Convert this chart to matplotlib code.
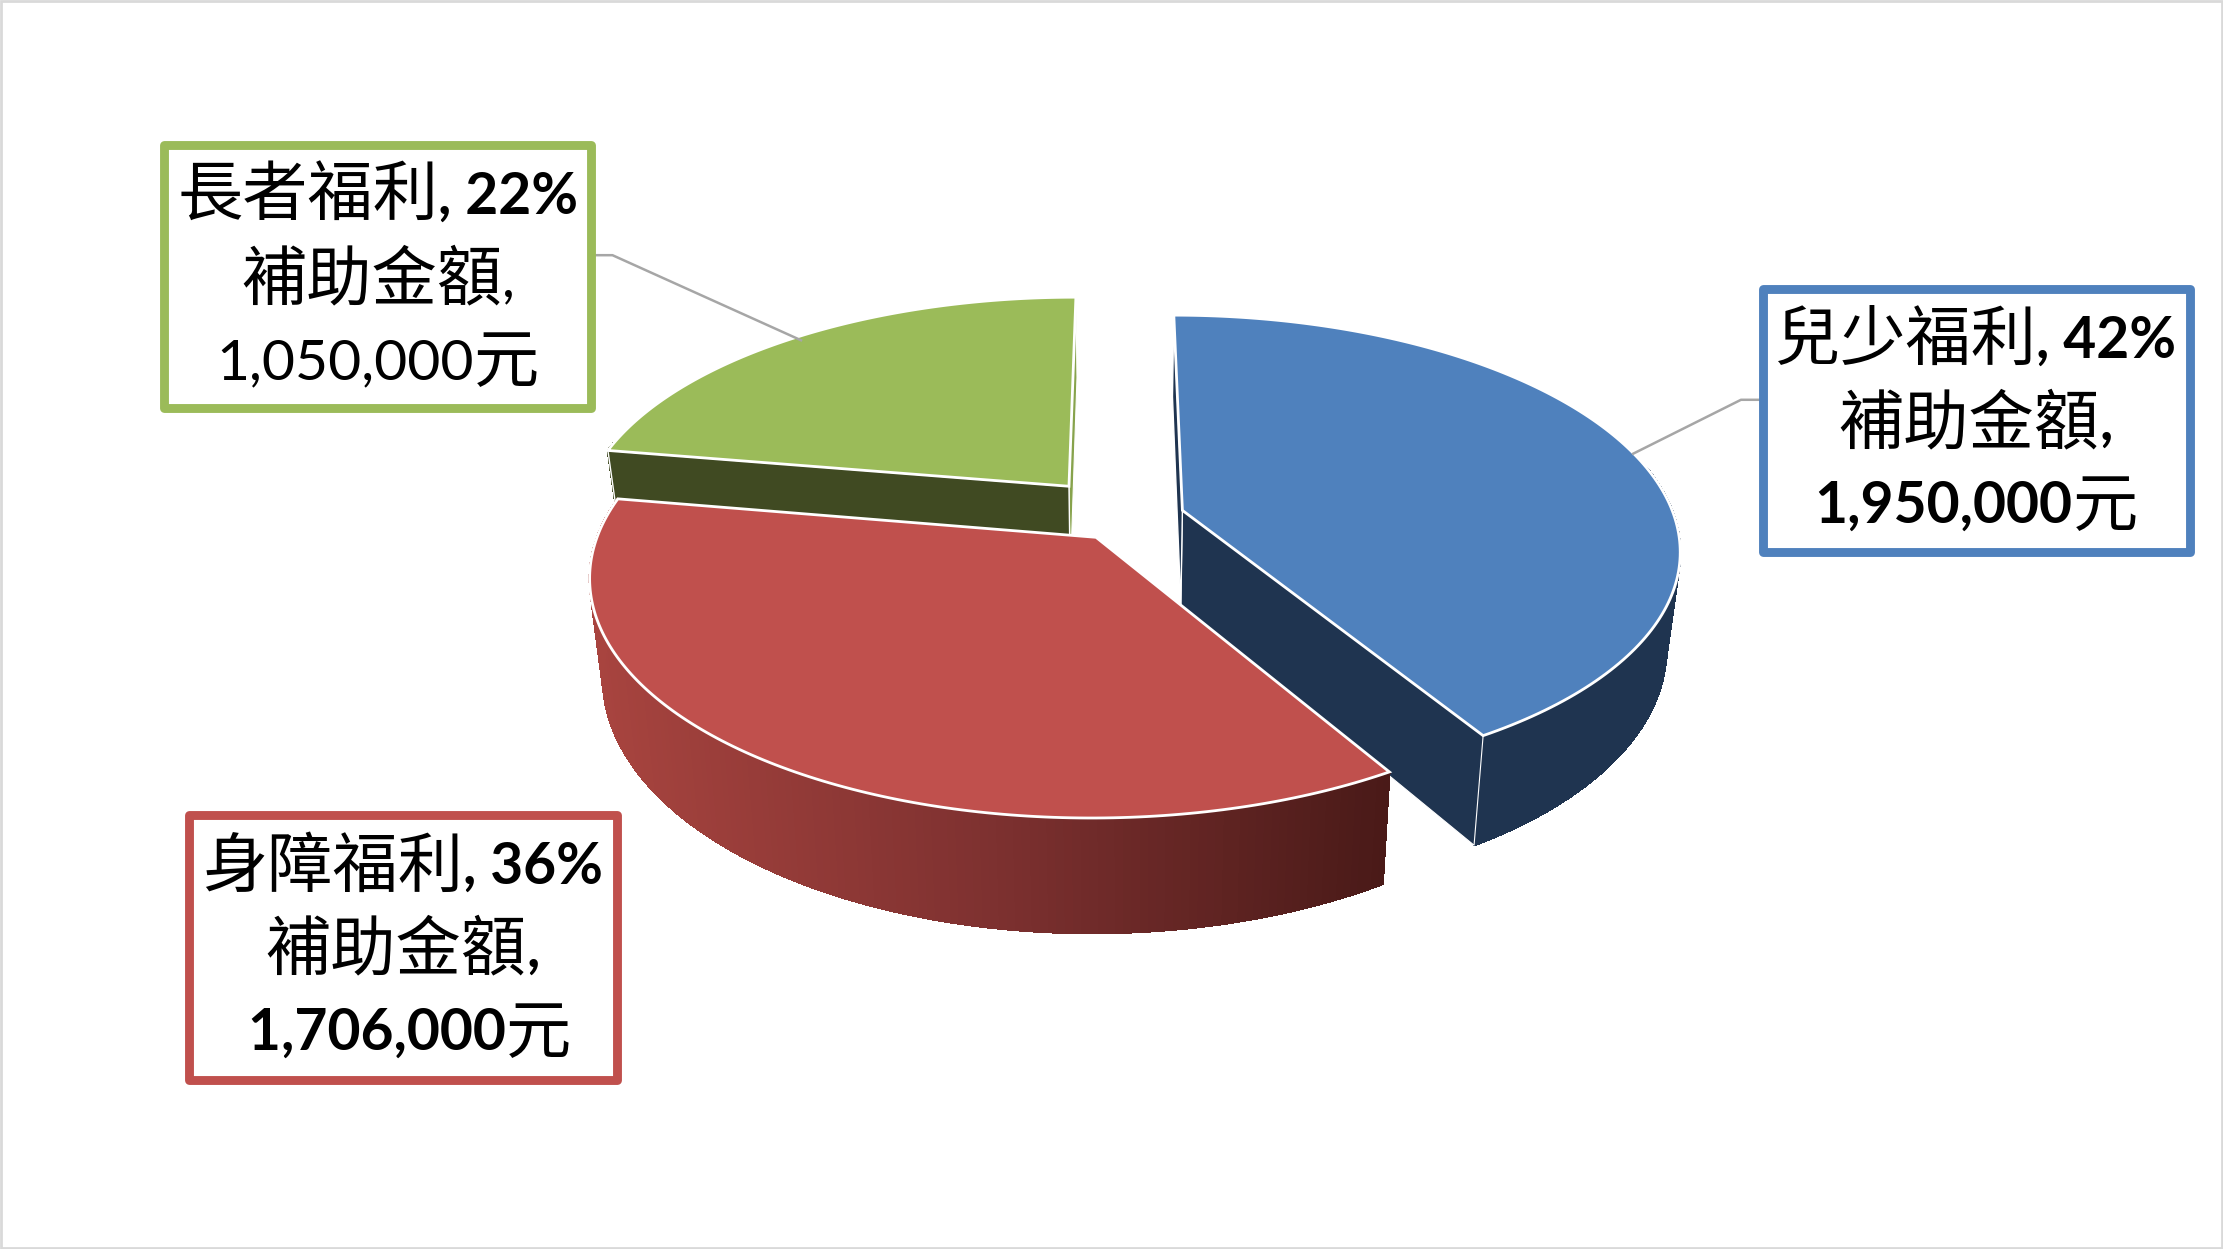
import numpy as np
import matplotlib
matplotlib.use('Agg')
import matplotlib.pyplot as plt
from matplotlib.collections import PolyCollection
from matplotlib.colors import LinearSegmentedColormap
from matplotlib.patches import Polygon, Rectangle

categories = ['兒少福利', '身障福利', '長者福利']
amounts = [1950000, 1706000, 1050000]
percents = [42, 36, 22]

topColors = ['#4F81BD', '#C0504D', '#9BBB59']
sideColors = ['#1F3450', '#7A2E2C', '#404A22']
explode = [(0.1274, 0.1168), (-0.048, 0.0), (-0.106, 0.2251)]

# projection constants, in the picture's own 1568 x 881 frame
X0, Y0 = 790, 379
RX, RY, DEPTH = 352, 165.8, 6.15
THICK, SHRINK = 68, 0.975


def project(wx, wy, bottom=False):
    s = DEPTH / (DEPTH + wy)
    x = X0 + RX * wx * s
    y = Y0 - RY * wy * s
    if bottom:
        x = X0 + (x - X0) * SHRINK
        y = y + THICK * s
    return x, y


def wedgePoints(off, a0, a1):
    t = np.radians(np.linspace(a0, a1, 160))
    return off[0] + np.cos(t), off[1] + np.sin(t)


def radialFace(ax, p0, p1, color, lw=1.0):
    tx0, ty0 = project(*p0)
    tx1, ty1 = project(*p1)
    bx0, by0 = project(*p0, bottom=True)
    bx1, by1 = project(*p1, bottom=True)
    ax.add_patch(Polygon([(tx0, ty0), (tx1, ty1), (bx1, by1), (bx0, by0)], closed=True,
                         facecolor=color, edgecolor='white', lw=lw))


def drawWedge(ax, i, a0, a1):
    off = explode[i]
    wx, wy = wedgePoints(off, a0, a1)
    tx, ty = project(wx, wy)
    bx, by = project(wx, wy, bottom=True)
    ax0, ay0 = project(off[0], off[1])

    # rim first (front part only, the back of it never shows), then the radial faces, then the top
    front = [k for k in range(len(tx) - 1) if wy[k] - off[1] < 0.2]
    polys = [[(tx[k], ty[k]), (tx[k + 1], ty[k + 1]), (bx[k + 1], by[k + 1]), (bx[k], by[k])]
             for k in front]
    if i == 1:
        cmap = LinearSegmentedColormap.from_list('redrim', ['#A8443F', '#7E3130', '#4A1A18'])
        cols = cmap((tx[front] - tx.min()) / (tx.max() - tx.min()))
    else:
        cols = [sideColors[i]] * len(polys)
    if polys:
        ax.add_collection(PolyCollection(polys, facecolors=cols, edgecolors=cols,
                                         linewidths=1.0, antialiaseds=False))

    # the red slice hides both of its radial faces under its own top
    if i != 1:
        radialFace(ax, off, (wx[-1], wy[-1]), sideColors[i] if i != 2 else '#87A34C', lw=0.8)
        radialFace(ax, off, (wx[0], wy[0]), sideColors[i])

    top = np.c_[np.r_[ax0, tx], np.r_[ay0, ty]]
    ax.add_patch(Polygon(top, closed=True, facecolor=topColors[i], edgecolor='white',
                         lw=2.0, joinstyle='miter'))


def textLine(ax, cx, y, runs):
    # runs is a list of (text, family, weight, size); centred as one line
    fig = ax.figure
    r = fig.canvas.get_renderer()
    items = []
    total = 0
    for text, family, weight, size, dy in runs:
        t = ax.text(0, y + dy, text, family=family, weight=weight, fontsize=size,
                    va='baseline', ha='left', color='black', zorder=10)
        # spaces have no ink, so measure between two dots
        probe = ax.text(0, y, '.' + text + '.', family=family, weight=weight, fontsize=size)
        dot = ax.text(0, y, '..', family=family, weight=weight, fontsize=size)
        w = probe.get_window_extent(r).width - dot.get_window_extent(r).width
        probe.remove()
        dot.remove()
        w = w * 1568 / fig.bbox.width
        items.append((t, w))
        total += w
    x = cx - total / 2
    for t, w in items:
        t.set_x(x)
        x += w


CJK = ['Noto Sans CJK TC', 'DejaVu Sans']
LAT = ['Lato', 'DejaVu Sans']
CS, LS = 47, 41


def labelBox(ax, i, x0, y0, x1, y1, boldAmount, lead=''):
    ax.add_patch(Rectangle((x0, y0), x1 - x0, y1 - y0, facecolor='white',
                           edgecolor=topColors[i], lw=6.4, joinstyle='round', zorder=9))
    cx = (x0 + x1) / 2
    weight = 'bold' if boldAmount else 'normal'
    textLine(ax, cx, y0 + 48.5, [(categories[i], CJK, 'normal', CS, 2),
                                 (', %d%%' % percents[i], LAT, 'bold', LS, 0)])
    textLine(ax, cx, y0 + 107, [('補助金額', CJK, 'normal', CS, 2), (',', LAT, weight, LS, 0)])
    textLine(ax, cx, y0 + 165.5, [(lead + format(amounts[i], ','), LAT, weight, LS, 0),
                                  ('元', CJK, 'normal', CS, 2)])


fig = plt.figure(figsize=(22.23, 12.49), dpi=100)
ax = fig.add_axes([0, 0, 1, 1])
ax.set_xlim(0, 1568)
ax.set_ylim(881, 0)
ax.axis('off')

# slices run clockwise from twelve o'clock
shares = np.array(amounts) / sum(amounts) * 360
ends = 90 - np.cumsum(shares)
starts = np.r_[90, ends[:-1]]
for i in [2, 0, 1]:
    drawWedge(ax, i, starts[i], ends[i])

ax.plot([420, 432, 565], [180, 180, 240], color='#A6A6A6', lw=1.8, zorder=5)
ax.plot([1243, 1228, 1152], [282, 282, 320], color='#A6A6A6', lw=1.8, zorder=5)

labelBox(ax, 0, 1243.2, 203.5, 1544.4, 389.7, True)
labelBox(ax, 1, 133, 575, 435, 762, True, lead=' ')
labelBox(ax, 2, 116, 102, 417.2, 288, False)

ax.add_patch(Rectangle((0.5, 0.5), 1567, 880, fill=False, edgecolor='#D9D9D9', lw=2, zorder=20))

fig.savefig('out.png', dpi=100)
